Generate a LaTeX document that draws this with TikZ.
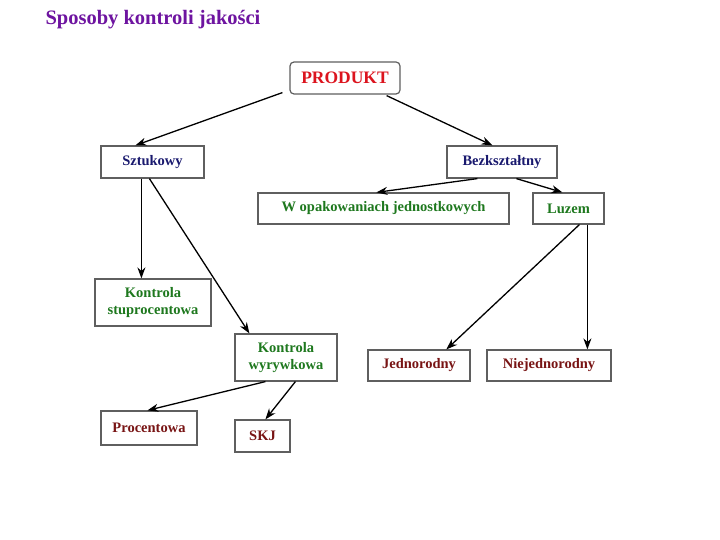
\documentclass[tikz,border=0pt]{standalone}
\usepackage{fontspec}
\setmainfont{Liberation Serif}
\usetikzlibrary{calc,arrows.meta}
\definecolor{cred}{RGB}{220,20,30}
\definecolor{cnavy}{RGB}{25,25,110}
\definecolor{cgreen}{RGB}{30,120,30}
\definecolor{cmaroon}{RGB}{120,20,20}
\definecolor{cpurple}{RGB}{110,20,160}
\definecolor{cborder}{RGB}{95,95,95}
\begin{document}
\begin{tikzpicture}[x=1pt,y=-1pt,
  box/.style={draw=cborder,line width=1.2pt,inner sep=0pt,align=center,font=\bfseries\fontsize{14.5}{17}\selectfont},
  arr/.style={-{Stealth[length=11pt,width=8pt]},line width=1.3pt}]
\useasboundingbox[fill=white] (0,0) rectangle (720,540);
\node[anchor=west,text=cpurple,font=\bfseries\fontsize{20.5}{24}\selectfont] (title) at (42,20) {Sposoby kontroli jakości};
\node[box,rounded corners=4pt,minimum width=110pt,minimum height=32pt,text=cred,font=\bfseries\fontsize{17.5}{20}\selectfont] (p) at (345,78) {PRODUKT};
\node[box,minimum width=103pt,minimum height=32pt,text=cnavy] (s) at (152.5,162) {Sztukowy};
\node[box,minimum width=110pt,minimum height=32pt,text=cnavy] (b) at (502,162) {Bezkształtny};
\node[box,minimum width=251pt,minimum height=31pt,text=cgreen] (w) at (383.5,208.5) {W opakowaniach jednostkowych};
\node[box,minimum width=71pt,minimum height=31pt,text=cgreen] (l) at (568.5,208.5) {Luzem};
\node[box,minimum width=116pt,minimum height=47pt,text=cgreen] (ks) at (153,302.5) {Kontrola\\stuprocentowa};
\node[box,minimum width=102pt,minimum height=47pt,text=cgreen] (kw) at (286,357.5) {Kontrola\\wyrywkowa};
\node[box,minimum width=102pt,minimum height=31pt,text=cmaroon] (j) at (419,365.5) {Jednorodny};
\node[box,minimum width=124pt,minimum height=31pt,text=cmaroon] (n) at (549,365.5) {Niejednorodny};
\node[box,minimum width=96pt,minimum height=34pt,text=cmaroon] (pr) at (149,428) {Procentowa};
\node[box,minimum width=55pt,minimum height=32pt,text=cmaroon] (skj) at (262.5,436) {SKJ};
\draw[arr] ([xshift=-7pt,yshift=2pt]p.south west) -- ([xshift=35pt]s.north west);
\draw[arr] ([xshift=-14pt,yshift=-1pt]p.south east) -- ([xshift=46pt]b.north west);
\draw[arr] ([xshift=41pt]s.south west) -- ([xshift=47pt]ks.north west);
\draw[arr] ([xshift=49pt]s.south west) -- ([xshift=15pt]kw.north west);
\draw[arr] ([xshift=31pt]b.south west) -- ([xshift=119pt]w.north west);
\draw[arr] ([xshift=70pt]b.south west) -- ([xshift=30pt]l.north west);
\draw[arr] ([xshift=47pt]l.south west) -- ([xshift=79pt]j.north west);
\draw[arr] ([xshift=55pt]l.south west) -- ([xshift=101pt]n.north west);
\draw[arr] ([xshift=31pt]kw.south west) -- ([xshift=47pt]pr.north west);
\draw[arr] ([xshift=61pt]kw.south west) -- ([xshift=31pt]skj.north west);
\end{tikzpicture}
\end{document}
